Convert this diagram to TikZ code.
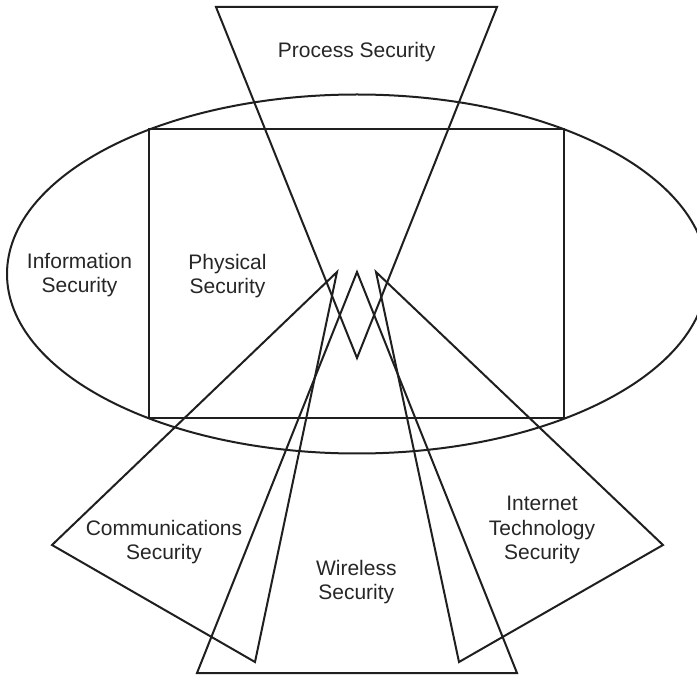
\documentclass[tikz,border=0pt]{standalone}
\usepackage{fontspec}
\setmainfont{Liberation Sans}
\begin{document}
\begin{tikzpicture}[x=1pt,y=-1pt,
  outline/.style={draw=black!88,line width=2pt,line join=miter},
  label/.style={align=center,font=\fontsize{21}{24.5}\selectfont,text=black!85,inner sep=0pt}]
\useasboundingbox (0,0) rectangle (697,676);
\begin{scope}
  \clip (0,0) rectangle (697,676);
  % outer ellipse and inner rectangle
  \draw[outline] (357,274) ellipse [x radius=350, y radius=179.5];
  \draw[outline] (149,129.3) rectangle (564.3,417.7);
  % funnel shapes converging on the centre
  \draw[outline] (216,7) -- (497,7) -- (357,358) -- cycle;
  \draw[outline] (52,545) -- (337,272) -- (255,662) -- cycle;
  \draw[outline] (357,272) -- (517,673) -- (197,673) -- cycle;
  \draw[outline] (663,545) -- (376,272) -- (459,662) -- cycle;
\end{scope}
\node[label] (process) at (356.7,52) {Process Security};
\node[label] (info) at (79.5,275) {Information\\Security};
\node[label] (phys) at (227.5,276) {Physical\\Security};
\node[label] (comm) at (164,542) {Communications\\Security};
\node[label] (wire) at (356.3,582) {Wireless\\Security};
\node[label] (inet) at (542,530) {Internet\\Technology\\Security};
\end{tikzpicture}
\end{document}
